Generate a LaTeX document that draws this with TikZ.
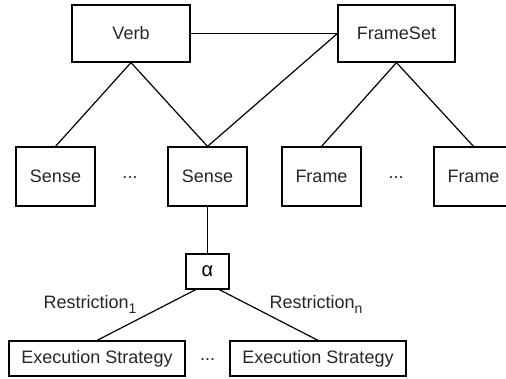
\documentclass[tikz,border=0pt]{standalone}
\usepackage{fontspec}
\setmainfont{Liberation Sans}
\newcommand{\lowsub}[1]{\raisebox{-5pt}{\fontsize{14}{14}\selectfont #1}}
\begin{document}
\begin{tikzpicture}[x=1pt,y=-1pt,line width=1.2pt,
  box/.style={draw,inner sep=0pt,text=black!85,font=\fontsize{18}{20}\selectfont},
  big/.style={box,minimum width=118pt,minimum height=57pt},
  mid/.style={box,minimum width=79pt,minimum height=59pt},
  low/.style={box,minimum width=176pt,minimum height=35pt},
  txt/.style={inner sep=0pt,text=black!85,font=\fontsize{18}{20}\selectfont},
  edge/.style={draw,line width=1.2pt}]
\useasboundingbox (0,0) rectangle (506,378);
\node[big] (verb) at (131,33.5) {Verb};
\node[big,minimum width=117pt] (frameset) at (396.5,33.5) {FrameSet};
\node[mid] (sense1) at (55.5,176.5) {Sense};
\node[mid] (sense2) at (207.5,176.5) {Sense};
\node[mid] (frame1) at (321.5,176.5) {Frame};
\node[mid] (frame2) at (473.5,176.5) {Frame};
\node[txt] (dots1) at (130,178) {...};
\node[txt] (dots2) at (396,178) {...};
\node[box,minimum width=43pt,minimum height=35pt,font=\fontsize{20}{20}\selectfont,text=black] (alpha) at (207.5,271.5) {α};
\node[low] (exec1) at (97,358.5) {Execution Strategy};
\node[low] (exec2) at (318,358.5) {Execution Strategy};
\node[txt] (dots3) at (207.5,360) {...};
\node[txt,anchor=base west] (r1) at (43,308) {Restriction\lowsub{1}};
\node[txt,anchor=base west] (rn) at (269,308) {Restriction\lowsub{n}};
\path[edge] (verb.east) -- (frameset.west);
\path[edge] (frameset.west) -- (sense2.north);
\path[edge] (verb.south) -- (sense1.north);
\path[edge] (verb.south) -- (sense2.north);
\path[edge] (frameset.south) -- (frame1.north);
\path[edge] (frameset.south) -- (frame2.north);
\path[edge] (sense2.south) -- (alpha.north);
\path[edge] (alpha.237) -- (exec1.north);
\path[edge] (alpha.303) -- (exec2.north);
\end{tikzpicture}
\end{document}
